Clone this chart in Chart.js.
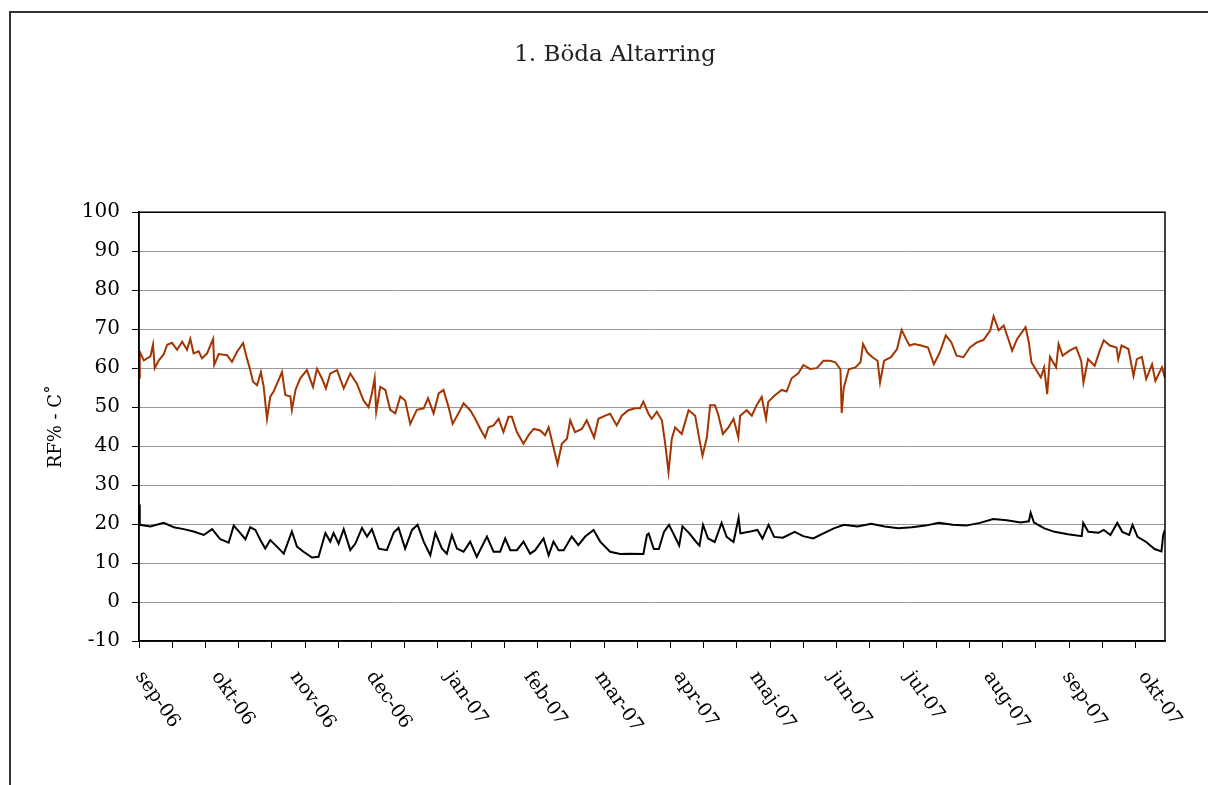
<!DOCTYPE html>
<html>
<head>
<meta charset="utf-8">
<script src="https://cdn.jsdelivr.net/npm/chart.js@4.4.1/dist/chart.umd.min.js"></script>
<style>
    html, body { margin: 0; padding: 0; background: #fff; overflow: hidden; }
    #frame { position: absolute; left: 9px; top: 11px; width: 1400px; height: 1000px; border-left: 2px solid #333; border-top: 2px solid #333; }
    #wrap { position: absolute; left: 0; top: 0; width: 1208px; height: 785px; }
</style>
</head>
<body>
<div id="frame"></div>
<div id="wrap"><canvas id="bodaChart"></canvas></div>
<script>
// days counted from 1 sep 2006
const xMax = 404
const tickStepDays = 13.08
const monthDays = [0, 30, 61, 91, 122, 153, 181, 212, 242, 273, 303, 334, 365, 395]
const monthLabels = ['sep-06', 'okt-06', 'nov-06', 'dec-06', 'jan-07', 'feb-07', 'mar-07',
    'apr-07', 'maj-07', 'jun-07', 'jul-07', 'aug-07', 'sep-07', 'okt-07']

// RF% (brown)
const rfDays = [0, 0.3, 1.9, 4.5, 5.5, 6.2, 7.8, 9.7, 11.1, 13, 15, 17, 18.9, 20.2, 21.5, 23.5, 24.8, 26.8,
    29.2, 29.6, 31.4, 34.7, 36.6, 38.6, 41, 42.5, 43.8, 44.9, 46.5, 48, 49.1, 50.4, 51.7, 53, 55, 56.3,
    57.6, 59.6, 60.2, 61.6, 63.5, 66.1, 68.5, 70.1, 72, 73.6, 75.3, 78, 80.6, 83.2, 85.8, 88.4, 90.4,
    91.7, 92.8, 93.4, 95, 97, 98.9, 100.9, 102.9, 104.8, 106.8, 109.4, 112.1, 113.8, 116, 118, 119.9,
    121.9, 123.5, 125.8, 127.8, 130.4, 132.4, 134.4, 136.3, 137.6, 139.6, 141.6, 143.5, 145.5, 146.8,
    148.8, 151.4, 153.4, 155.4, 158, 159.9, 161.3, 163.2, 164.8, 166.5, 168.5, 169.8, 171.7, 174.4,
    176.3, 179.2, 180.9, 183.6, 185.5, 188.1, 190.1, 192.7, 195.4, 197.3, 198.6, 200.6, 201.9, 203.9,
    205.9, 207.2, 208.5, 209.8, 211.1, 213.7, 216.4, 219, 220.9, 221.9, 223.6, 224.9, 226.8, 228.2,
    229.9, 232.1, 234.1, 236, 236.7, 239.3, 241.3, 243.2, 245.2, 246.9, 247.8, 250.5, 253.1, 255, 257,
    259.6, 261.6, 264.2, 266.9, 269.5, 272.2, 274.2, 276.2, 276.7, 277.5, 279.5, 282.1, 284.1, 285.1,
    286.8, 288.8, 290.8, 291.8, 293.4, 296.1, 298.5, 300.3, 302, 303.4, 305.3, 308, 310.7, 313, 315.3,
    317.7, 319.9, 321.9, 324.6, 327.2, 329.9, 332.5, 335.2, 336.5, 338.5, 340.5, 342.5, 343.8, 345.8,
    349.1, 350.4, 351.4, 353.1, 355.1, 356.4, 357.6, 358.7, 361.1, 362.1, 363.7, 366.4, 369, 371, 371.9,
    373.7, 376.3, 378.3, 379.9, 382.3, 384.9, 385.6, 386.9, 389.6, 391.6, 392.9, 394.9, 396.6, 398.9,
    400.2, 402.8, 404]
const rfValues = [57.5, 64.2, 62, 63, 66, 60, 62, 63.5, 66, 66.5, 64.7, 66.8, 64.7, 67.5, 63.8, 64.3, 62.5, 63.8,
    67.5, 60.8, 63.6, 63.3, 61.6, 64.2, 66.4, 62.5, 59.5, 56.5, 55.6, 59, 55.2, 47, 52.7, 54, 57, 59,
    53.1, 52.7, 49.3, 54.4, 57.4, 59.5, 55.2, 59.8, 57.4, 54.8, 58.6, 59.5, 54.8, 58.6, 56, 51.7, 50,
    53.5, 57.4, 48.8, 55.2, 54.4, 49.3, 48.4, 52.7, 51.7, 45.7, 49.3, 49.7, 52.3, 48.4, 53.5, 54.4,
    50, 45.7, 48.4, 51, 49.2, 47, 44.4, 42.2, 44.8, 45.3, 47, 43.6, 47.5, 47.5,
    43.6, 40.6, 42.8, 44.4, 44, 42.8, 44.8, 39.7, 35.4, 40.6, 41.9, 46.6, 43.6, 44.4,
    46.6, 42.2, 47, 47.8, 48.3, 45.3, 47.8, 49.2, 49.7, 49.7, 51.4, 48.3, 47, 48.8,
    46.6, 40.6, 33.3, 41.9, 44.8, 43.1, 49.2, 47.8, 40.9, 37.5, 42.2, 50.5, 50.5, 47.8,
    43.1, 44.8, 47, 42.2, 47.8, 49.2, 47.8, 50.5, 52.6, 47, 51.4, 53.1, 54.4, 54, 57.4,
    58.7, 60.8, 59.8, 60, 61.9, 61.9, 61.5, 59.7, 48.5, 55, 59.7, 60.2, 61.5, 66.2,
    64, 62.8, 61.9, 56.3, 61.9, 62.8, 64.9, 69.8, 67.5, 65.8, 66.2, 65.8, 65.3, 61, 64,
    68.4, 66.6, 63.2, 62.8, 65.3, 66.6, 67.2, 69.7, 73.3, 69.7, 70.9, 67.1, 64.5, 67.5,
    70.5, 66.6, 61.5, 59.7, 57.6, 60.2, 53.3, 62.9, 60.2, 66.2, 63.2, 64.5, 65.3, 61.9, 56.3,
    62.3, 60.6, 64.5, 67.1, 65.8, 65.3, 62.3, 65.8, 64.9, 58, 62.3, 62.9, 57.2, 61,
    56.7, 60.2, 57.5]

// temperature C (black)
const tempDays = [0, 0.3, 4.5, 9.7, 13.7, 17.6, 21.5, 25.5, 28.8, 32, 35.3, 37.3, 39.3, 41.9, 43.8, 45.8,
    47.8, 49.7, 51.7, 54.3, 57, 60.2, 62.2, 64.8, 68.1, 70.7, 73.4, 75.3, 76.6, 78.6, 80.6, 83.2, 85.2,
    87.8, 89.8, 91.7, 94.4, 97.6, 100.3, 102.2, 104.8, 107.5, 109.7, 112.1, 114.7, 116.7, 119.3, 121.2,
    123.2, 125.2, 127.8, 130.4, 133, 137, 139.6, 142.2, 144.2, 146.2, 148.8, 151.4, 154, 156, 159.3,
    161.3, 163.2, 165.2, 167.2, 170.4, 173, 175.7, 179, 181.6, 185.5, 189.5, 193.4, 198.6, 200, 200.7,
    202.7, 204.7, 206.7, 208.7, 210.7, 212.7, 214, 216.7, 219.4, 220.7, 222.1, 224.1, 226.7, 229.4,
    231.4, 234.1, 236.1, 236.8, 240.1, 243.5, 245.5, 247.9, 250.1, 253.5, 258.2, 261.5, 265.5, 269.5,
    273.6, 277.6, 282.9, 288.3, 293.6, 299, 304.3, 309.7, 315, 320.4, 325.7, 331.1, 336.4, 341.7,
    347.1, 350.4, 351.1, 352.4, 356.5, 360.5, 365.8, 371.2, 371.8, 373.8, 377.9, 379.9, 382.5, 385.2,
    387.2, 389.9, 391.2, 393.2, 396.6, 399.9, 402.6, 403.3, 404]
const tempValues = [25, 19.8, 19.4, 20.3, 19.2, 18.7, 18.1, 17.2, 18.7, 16.1, 15.2, 19.6, 18.1, 16.1, 19.2, 18.5,
    15.9, 13.7, 15.9, 14.2, 12.4, 18.1, 14.2, 12.9, 11.4, 11.6, 17.7, 15.5, 17.7, 15, 18.7, 13.3, 15,
    19, 16.8, 18.7, 13.7, 13.3, 17.8, 19, 13.7, 18.5, 19.8, 15.5, 12, 17.7, 13.7, 12.4,
    17.2, 13.7, 12.9, 15.5, 11.6, 16.8, 12.9, 12.9, 16.3, 13.3, 13.3, 15.5, 12.4, 13.3, 16.3,
    12, 15.5, 13.3, 13.3, 16.8, 14.6, 16.8, 18.5, 15.5, 12.9, 12.3, 12.4, 12.3, 17.2, 17.6,
    13.6, 13.6, 18, 19.8, 17.2, 14.5, 19.4, 17.6, 15.4, 14.5, 19.8, 16.3, 15.4, 20.3,
    16.7, 15.4, 21.6, 17.6, 18, 18.5, 16.3, 19.8, 16.7, 16.5, 18, 16.9, 16.3, 17.6,
    18.9, 19.8, 19.4, 20.1, 19.4, 18.9, 19.2, 19.6, 20.3, 19.8, 19.6, 20.3, 21.3, 21,
    20.4, 20.7, 22.9, 20.4, 18.9, 18, 17.4, 16.9, 20.3, 18, 17.8, 18.5, 17.2, 20.3,
    18, 17.2, 19.8, 16.7, 15.4, 13.6, 13, 17.2, 18.5]

const serif = 'DejaVu Serif'

// x labels that hang down to the right of their date
class SlantScale extends Chart.LinearScale {
    static id = 'slant'
    static defaults = Chart.LinearScale.defaults
    _getXAxisLabelAlignment() {
        return 'left'
    }
}
Chart.register(SlantScale)

const plotFrame = {
    id: 'plotFrame',
    afterDatasetsDraw(chart) {
        const {ctx, chartArea: {left, top, right, bottom}} = chart
        ctx.save()
        ctx.strokeStyle = '#000'
        ctx.lineWidth = 1.5
        ctx.strokeRect(left, top, right - left, bottom - top)
        ctx.restore()
    }
}

function toPoints(days, values) {
    return days.map((d, i) => ({x: d, y: values[i]}))
}

const tickDays = []
for (let d = 0; d <= xMax; d += tickStepDays) tickDays.push(d)

new Chart(document.getElementById('bodaChart'), {
    type: 'line',
    data: {
        datasets: [
            {
                label: 'RF%',
                data: toPoints(rfDays, rfValues),
                borderColor: '#a33500',
                borderWidth: 2,
                pointRadius: 0,
                tension: 0,
                xAxisID: 'x',
                yAxisID: 'y'
            },
            {
                label: 'C',
                data: toPoints(tempDays, tempValues),
                borderColor: '#000',
                borderWidth: 2,
                pointRadius: 0,
                tension: 0,
                xAxisID: 'x',
                yAxisID: 'y'
            }
        ]
    },
    options: {
        responsive: true,
        maintainAspectRatio: false,
        animation: false,
        layout: {padding: {left: 65, right: 43, top: 0, bottom: 0}},
        scales: {
            x: {
                type: 'linear',
                position: 'bottom',
                min: 0,
                max: xMax,
                afterBuildTicks: scale => { scale.ticks = tickDays.map(v => ({value: v})) },
                ticks: {display: false},
                grid: {drawOnChartArea: false, tickLength: 7, color: '#000', tickColor: '#000'},
                border: {color: '#000', width: 1.5}
            },
            xm: {
                type: 'slant',
                position: 'bottom',
                min: 0,
                max: xMax,
                afterBuildTicks: scale => { scale.ticks = monthDays.map(v => ({value: v})) },
                afterFit: scale => { scale.height = 137 },
                ticks: {
                    autoSkip: false,
                    minRotation: -55,
                    maxRotation: -55,
                    padding: 19,
                    color: '#000',
                    font: {family: serif, size: 19},
                    callback: (value, index) => monthLabels[index]
                },
                grid: {display: false, drawTicks: false},
                border: {display: false}
            },
            y: {
                min: -10,
                max: 100,
                afterFit: scale => { scale.width = 74 },
                ticks: {stepSize: 10, padding: 12, color: '#000', font: {family: serif, size: 20}},
                grid: {color: '#999', tickColor: '#000', tickLength: 7},
                border: {color: '#000', width: 1.5},
                title: {
                    display: true,
                    text: 'RF% - C˚',
                    color: '#000',
                    font: {family: serif, size: 18},
                    padding: {top: -19, bottom: 0}
                }
            }
        },
        plugins: {
            legend: {display: false},
            tooltip: {enabled: false},
            title: {
                display: true,
                text: '1. Böda Altarring',
                color: '#222',
                font: {family: serif, size: 23, weight: 'normal'},
                padding: {top: 41, bottom: 143.6}
            }
        }
    },
    plugins: [plotFrame]
})
</script>
</body>
</html>
